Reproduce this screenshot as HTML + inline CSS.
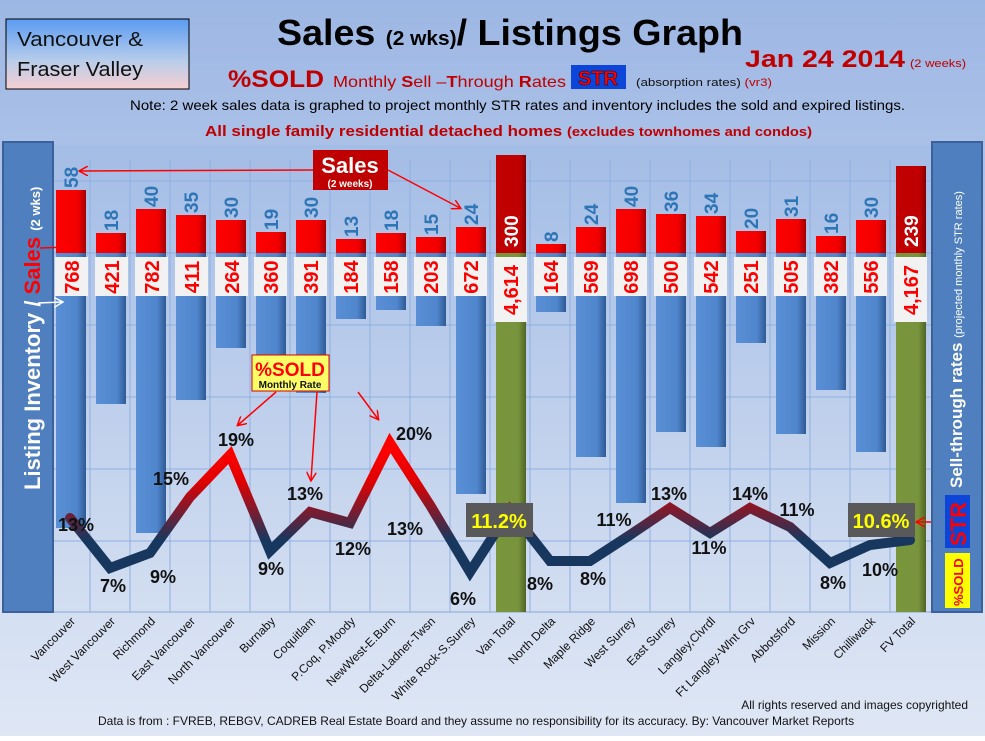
<!DOCTYPE html>
<html><head><meta charset="utf-8"><style>
body{margin:0;width:985px;height:736px;overflow:hidden;font-family:"Liberation Sans",sans-serif}
</style></head><body>
<svg width="985" height="736" xmlns="http://www.w3.org/2000/svg" font-family="Liberation Sans, sans-serif">
<defs>
<linearGradient id="bg" x1="0" y1="0" x2="0" y2="1"><stop offset="0" stop-color="#9db7e4"/><stop offset="1" stop-color="#dfe7f5"/></linearGradient>
<linearGradient id="pl" x1="0" y1="0" x2="0" y2="1"><stop offset="0" stop-color="#a4bde6"/><stop offset="1" stop-color="#d3def1"/></linearGradient>
<linearGradient id="bl" x1="0" y1="0" x2="1" y2="0"><stop offset="0" stop-color="#5a8fd6"/><stop offset="0.7" stop-color="#4f86cc"/><stop offset="1" stop-color="#2f5a95"/></linearGradient>
<linearGradient id="rd" x1="0" y1="0" x2="1" y2="0"><stop offset="0" stop-color="#ff0000"/><stop offset="0.75" stop-color="#f20000"/><stop offset="1" stop-color="#a00000"/></linearGradient>
<linearGradient id="dr" x1="0" y1="0" x2="1" y2="0"><stop offset="0" stop-color="#c00000"/><stop offset="0.8" stop-color="#c00000"/><stop offset="1" stop-color="#800000"/></linearGradient>
<linearGradient id="gr" x1="0" y1="0" x2="1" y2="0"><stop offset="0" stop-color="#7a963c"/><stop offset="0.75" stop-color="#77933c"/><stop offset="1" stop-color="#4f6424"/></linearGradient>
<linearGradient id="ln" gradientUnits="userSpaceOnUse" x1="0" y1="450" x2="0" y2="540"><stop offset="0" stop-color="#ff0000"/><stop offset="0.35" stop-color="#e00000"/><stop offset="1" stop-color="#17375e"/></linearGradient>
<linearGradient id="tb" x1="0" y1="0" x2="0" y2="1"><stop offset="0" stop-color="#5b9bf2"/><stop offset="0.6" stop-color="#b8cdea"/><stop offset="1" stop-color="#f7cfd2"/></linearGradient>
<marker id="ar" markerWidth="10" markerHeight="10" refX="8" refY="5" orient="auto" markerUnits="userSpaceOnUse"><path d="M0,0 L9,5 L0,10" fill="none" stroke="#f00" stroke-width="1.5"/></marker>
<marker id="aw" markerWidth="10" markerHeight="10" refX="8" refY="5" orient="auto" markerUnits="userSpaceOnUse"><path d="M0,0 L9,5 L0,10" fill="none" stroke="#fff" stroke-width="1.5"/></marker>
</defs>
<rect width="985" height="736" fill="url(#bg)"/>
<!-- header -->
<rect x="6" y="19" width="183" height="70" fill="url(#tb)" stroke="#000" stroke-width="1"/>
<text x="17" y="46" font-size="20" fill="#111" textLength="126" lengthAdjust="spacingAndGlyphs">Vancouver &amp;</text>
<text x="17" y="76" font-size="20" fill="#111" textLength="126" lengthAdjust="spacingAndGlyphs">Fraser Valley</text>
<text x="277" y="45" font-size="36" font-weight="bold" fill="#000" textLength="466" lengthAdjust="spacingAndGlyphs">Sales <tspan font-size="20">(2 wks)</tspan>/ Listings Graph</text>
<text x="745" y="67" font-size="24" font-weight="bold" fill="#c00000" textLength="160" lengthAdjust="spacingAndGlyphs">Jan 24 2014</text>
<text x="910" y="67" font-size="11" fill="#c00000" textLength="56" lengthAdjust="spacingAndGlyphs">(2 weeks)</text>
<text x="228" y="87" font-size="24" font-weight="bold" fill="#c00000" textLength="96" lengthAdjust="spacingAndGlyphs">%SOLD</text>
<text x="333" y="87" font-size="16" fill="#c00000" textLength="233" lengthAdjust="spacingAndGlyphs">Monthly <tspan font-weight="bold">S</tspan>ell –<tspan font-weight="bold">T</tspan>hrough <tspan font-weight="bold">R</tspan>ates</text>
<rect x="571" y="65" width="55" height="24" fill="#0c45d8"/>
<text x="598" y="85" font-size="20" font-weight="bold" text-anchor="middle" fill="#ff0000" stroke="#200" stroke-width="0.5">STR</text>
<text x="636" y="86" font-size="11" fill="#111" textLength="136" lengthAdjust="spacingAndGlyphs">(absorption rates) <tspan fill="#c00000">(vr3)</tspan></text>
<text x="130" y="110" font-size="14" fill="#000" textLength="775" lengthAdjust="spacingAndGlyphs">Note: 2 week sales data is graphed to project monthly STR rates and inventory includes the sold and expired listings.</text>
<text x="205" y="136" font-size="15" font-weight="bold" fill="#c00000" textLength="607" lengthAdjust="spacingAndGlyphs">All single family residential detached homes <tspan font-size="13">(excludes townhomes and condos)</tspan></text>
<!-- plot -->
<rect x="53" y="145" width="878" height="467" fill="url(#pl)"/>
<g stroke="#8fb0e0" stroke-width="1">
<line x1="53" y1="181" x2="931" y2="181"/><line x1="53" y1="253" x2="931" y2="253"/><line x1="53" y1="325" x2="931" y2="325"/><line x1="53" y1="397" x2="931" y2="397"/><line x1="53" y1="469" x2="931" y2="469"/><line x1="53" y1="541" x2="931" y2="541"/>
<line x1="90" y1="160" x2="90" y2="612"/><line x1="130" y1="160" x2="130" y2="612"/><line x1="170" y1="160" x2="170" y2="612"/><line x1="210" y1="160" x2="210" y2="612"/><line x1="250" y1="160" x2="250" y2="612"/><line x1="290" y1="160" x2="290" y2="612"/><line x1="330" y1="160" x2="330" y2="612"/><line x1="370" y1="160" x2="370" y2="612"/><line x1="410" y1="160" x2="410" y2="612"/><line x1="450" y1="160" x2="450" y2="612"/><line x1="490" y1="160" x2="490" y2="612"/><line x1="530" y1="160" x2="530" y2="612"/><line x1="570" y1="160" x2="570" y2="612"/><line x1="610" y1="160" x2="610" y2="612"/><line x1="650" y1="160" x2="650" y2="612"/><line x1="690" y1="160" x2="690" y2="612"/><line x1="730" y1="160" x2="730" y2="612"/><line x1="770" y1="160" x2="770" y2="612"/><line x1="810" y1="160" x2="810" y2="612"/><line x1="850" y1="160" x2="850" y2="612"/><line x1="890" y1="160" x2="890" y2="612"/>
</g>
<line x1="53" y1="612" x2="931" y2="612" stroke="#9fb8de" stroke-width="1.5"/>
<!-- blue bars -->
<g fill="url(#bl)">
<rect x="56" y="253" width="30" height="275"/><rect x="96" y="253" width="30" height="151"/><rect x="136" y="253" width="30" height="280"/><rect x="176" y="253" width="30" height="147"/><rect x="216" y="253" width="30" height="95"/><rect x="256" y="253" width="30" height="129"/><rect x="296" y="253" width="30" height="140"/><rect x="336" y="253" width="30" height="66"/><rect x="376" y="253" width="30" height="57"/><rect x="416" y="253" width="30" height="73"/><rect x="456" y="253" width="30" height="241"/>
<rect x="536" y="253" width="30" height="59"/><rect x="576" y="253" width="30" height="204"/><rect x="616" y="253" width="30" height="250"/><rect x="656" y="253" width="30" height="179"/><rect x="696" y="253" width="30" height="194"/><rect x="736" y="253" width="30" height="90"/><rect x="776" y="253" width="30" height="181"/><rect x="816" y="253" width="30" height="137"/><rect x="856" y="253" width="30" height="199"/>
</g>
<rect x="496" y="253" width="30" height="359" fill="url(#gr)"/>
<rect x="896" y="253" width="30" height="359" fill="url(#gr)"/>
<!-- red bars -->
<g fill="url(#rd)">
<rect x="56" y="190" width="30" height="63"/><rect x="96" y="233" width="30" height="20"/><rect x="136" y="209" width="30" height="44"/><rect x="176" y="215" width="30" height="38"/><rect x="216" y="220" width="30" height="33"/><rect x="256" y="232" width="30" height="21"/><rect x="296" y="220" width="30" height="33"/><rect x="336" y="239" width="30" height="14"/><rect x="376" y="233" width="30" height="20"/><rect x="416" y="237" width="30" height="16"/><rect x="456" y="227" width="30" height="26"/>
<rect x="536" y="244" width="30" height="9"/><rect x="576" y="227" width="30" height="26"/><rect x="616" y="209" width="30" height="44"/><rect x="656" y="214" width="30" height="39"/><rect x="696" y="216" width="30" height="37"/><rect x="736" y="231" width="30" height="22"/><rect x="776" y="219" width="30" height="34"/><rect x="816" y="236" width="30" height="17"/><rect x="856" y="220" width="30" height="33"/>
</g>
<rect x="496" y="155" width="30" height="98" fill="url(#dr)"/>
<rect x="896" y="166" width="30" height="87" fill="url(#dr)"/>
<!-- sales labels -->
<g font-size="19" font-weight="bold" fill="#2e75b6">
<text transform="translate(78,188) rotate(-90)">58</text><text transform="translate(118,231) rotate(-90)">18</text><text transform="translate(158,207) rotate(-90)">40</text><text transform="translate(198,213) rotate(-90)">35</text><text transform="translate(238,218) rotate(-90)">30</text><text transform="translate(278,230) rotate(-90)">19</text><text transform="translate(318,218) rotate(-90)">30</text><text transform="translate(358,237) rotate(-90)">13</text><text transform="translate(398,231) rotate(-90)">18</text><text transform="translate(438,235) rotate(-90)">15</text><text transform="translate(478,225) rotate(-90)">24</text>
<text transform="translate(558,242) rotate(-90)">8</text><text transform="translate(598,225) rotate(-90)">24</text><text transform="translate(638,207) rotate(-90)">40</text><text transform="translate(678,212) rotate(-90)">36</text><text transform="translate(718,214) rotate(-90)">34</text><text transform="translate(758,229) rotate(-90)">20</text><text transform="translate(798,217) rotate(-90)">31</text><text transform="translate(838,234) rotate(-90)">16</text><text transform="translate(878,218) rotate(-90)">30</text>
</g>
<g font-size="19" font-weight="bold" fill="#fff">
<text transform="translate(518,247) rotate(-90)">300</text><text transform="translate(918,247) rotate(-90)">239</text>
</g>
<!-- inventory label boxes -->
<g fill="#f2f2f2">
<rect x="55" y="257" width="33" height="39"/><rect x="95" y="257" width="33" height="39"/><rect x="135" y="257" width="33" height="39"/><rect x="175" y="257" width="33" height="39"/><rect x="215" y="257" width="33" height="39"/><rect x="254" y="257" width="33" height="39"/><rect x="294" y="257" width="33" height="39"/><rect x="334" y="257" width="33" height="39"/><rect x="374" y="257" width="33" height="39"/><rect x="414" y="257" width="33" height="39"/><rect x="454" y="257" width="33" height="39"/><rect x="494" y="257" width="33" height="65"/>
<rect x="534" y="257" width="33" height="39"/><rect x="574" y="257" width="33" height="39"/><rect x="614" y="257" width="33" height="39"/><rect x="654" y="257" width="33" height="39"/><rect x="694" y="257" width="33" height="39"/><rect x="734" y="257" width="33" height="39"/><rect x="774" y="257" width="33" height="39"/><rect x="814" y="257" width="33" height="39"/><rect x="854" y="257" width="33" height="39"/><rect x="894" y="257" width="33" height="65"/>
</g>
<g font-size="20" font-weight="bold" fill="#ff0000" text-anchor="middle">
<text transform="translate(79,277) rotate(-90)">768</text><text transform="translate(119,277) rotate(-90)">421</text><text transform="translate(159,277) rotate(-90)">782</text><text transform="translate(199,277) rotate(-90)">411</text><text transform="translate(239,277) rotate(-90)">264</text><text transform="translate(278,277) rotate(-90)">360</text><text transform="translate(318,277) rotate(-90)">391</text><text transform="translate(358,277) rotate(-90)">184</text><text transform="translate(398,277) rotate(-90)">158</text><text transform="translate(438,277) rotate(-90)">203</text><text transform="translate(478,277) rotate(-90)">672</text><text transform="translate(518,290) rotate(-90)">4,614</text>
<text transform="translate(558,277) rotate(-90)">164</text><text transform="translate(598,277) rotate(-90)">569</text><text transform="translate(638,277) rotate(-90)">698</text><text transform="translate(678,277) rotate(-90)">500</text><text transform="translate(718,277) rotate(-90)">542</text><text transform="translate(758,277) rotate(-90)">251</text><text transform="translate(798,277) rotate(-90)">505</text><text transform="translate(838,277) rotate(-90)">382</text><text transform="translate(878,277) rotate(-90)">556</text><text transform="translate(918,290) rotate(-90)">4,167</text>
</g>
<!-- line -->
<polyline points="70,518 110,568 150,553 190,497 230,455 270,551 310,512 350,523 390,443 430,505 470,572 510,510 550,561 590,561 630,535 670,508 710,533 750,508 790,527 830,563 870,545 910,540" fill="none" stroke="url(#ln)" stroke-width="10" stroke-linejoin="miter" stroke-linecap="round"/>
<g font-size="18" font-weight="bold" fill="#111" text-anchor="middle">
<text x="76" y="531">13%</text><text x="113" y="592">7%</text><text x="163" y="583">9%</text><text x="171" y="485">15%</text><text x="236" y="446">19%</text><text x="271" y="575">9%</text><text x="305" y="500">13%</text><text x="353" y="555">12%</text><text x="414" y="440">20%</text><text x="405" y="535">13%</text><text x="463" y="605">6%</text>
<text x="540" y="590">8%</text><text x="593" y="585">8%</text><text x="614" y="526">11%</text><text x="669" y="500">13%</text><text x="709" y="554">11%</text><text x="750" y="500">14%</text><text x="797" y="516">11%</text><text x="833" y="589">8%</text><text x="880" y="576">10%</text>
</g>
<rect x="466" y="503" width="67" height="34" fill="#595959"/>
<text x="499" y="528" font-size="20" font-weight="bold" fill="#ffff00" text-anchor="middle">11.2%</text>
<rect x="848" y="503" width="67" height="34" fill="#595959"/>
<text x="881" y="528" font-size="20" font-weight="bold" fill="#ffff00" text-anchor="middle">10.6%</text>
<line x1="948" y1="522" x2="917" y2="522" stroke="#f00" stroke-width="1.5" marker-end="url(#ar)"/>
<!-- annotations -->
<line x1="313" y1="170" x2="80" y2="171" stroke="#f00" stroke-width="1.5" marker-end="url(#ar)"/>
<line x1="388" y1="170" x2="460" y2="208" stroke="#f00" stroke-width="1.5" marker-end="url(#ar)"/>
<rect x="313" y="150" width="75" height="40" fill="#c00000"/>
<text x="350" y="173" font-size="22" font-weight="bold" fill="#fff" text-anchor="middle">Sales</text>
<text x="350" y="187" font-size="10" font-weight="bold" fill="#fff" text-anchor="middle">(2 weeks)</text>
<line x1="276" y1="392" x2="238" y2="425" stroke="#f00" stroke-width="1.5" marker-end="url(#ar)"/>
<line x1="317" y1="392" x2="311" y2="480" stroke="#f00" stroke-width="1.5" marker-end="url(#ar)"/>
<line x1="358" y1="392" x2="378" y2="419" stroke="#f00" stroke-width="1.5" marker-end="url(#ar)"/>
<rect x="252" y="355" width="77" height="36" fill="#ffff66" stroke="#d00" stroke-width="1"/>
<text x="290" y="376" font-size="19" font-weight="bold" fill="#f00" text-anchor="middle">%SOLD</text>
<text x="290" y="388" font-size="10" font-weight="bold" fill="#111" text-anchor="middle">Monthly Rate</text>
<!-- left panel -->
<rect x="3" y="142" width="50" height="470" fill="#4f7fbf" stroke="#3a619a" stroke-width="2"/>
<text transform="translate(40,490) rotate(-90)" font-size="22" font-weight="bold" fill="#fff">Listing Inventory / <tspan fill="#ff0000">Sales</tspan> <tspan font-size="13">(2  wks)</tspan></text>
<line x1="40" y1="248" x2="68" y2="247" stroke="#f00" stroke-width="1.5" marker-end="url(#ar)"/>
<line x1="38" y1="303" x2="62" y2="302" stroke="#fff" stroke-width="1.5" marker-end="url(#aw)"/>
<!-- right panel -->
<rect x="932" y="142" width="50" height="470" fill="#4f7fbf" stroke="#3a619a" stroke-width="2"/>
<text transform="translate(962,488) rotate(-90)" font-size="17" font-weight="bold" fill="#fff">Sell-through rates <tspan font-size="11" font-weight="normal">(projected monthly STR rates)</tspan></text>
<rect x="945" y="495" width="25" height="53" fill="#0c45d8"/>
<text transform="translate(966,546) rotate(-90)" font-size="22" font-weight="bold" fill="#ff0000">STR</text>
<rect x="945" y="553" width="25" height="55" fill="#ffff00"/>
<text transform="translate(963,606) rotate(-90)" font-size="13" font-weight="bold" fill="#ff0000">%SOLD</text>
<!-- x labels -->
<g font-size="12" fill="#111" text-anchor="end">
<text transform="translate(76,622) rotate(-45)">Vancouver</text><text transform="translate(116,622) rotate(-45)">West Vancouver</text><text transform="translate(156,622) rotate(-45)">Richmond</text><text transform="translate(196,622) rotate(-45)">East Vancouver</text><text transform="translate(236,622) rotate(-45)">North Vancouver</text><text transform="translate(276,622) rotate(-45)">Burnaby</text><text transform="translate(316,622) rotate(-45)">Coquitlam</text><text transform="translate(356,622) rotate(-45)">P.Coq, P.Moody</text><text transform="translate(396,622) rotate(-45)">NewWest-E.Burn</text><text transform="translate(436,622) rotate(-45)">Delta-Ladner-Twsn</text><text transform="translate(476,622) rotate(-45)">White Rock-S.Surrey</text><text transform="translate(516,622) rotate(-45)">Van Total</text>
<text transform="translate(556,622) rotate(-45)">North Delta</text><text transform="translate(596,622) rotate(-45)">Maple Ridge</text><text transform="translate(636,622) rotate(-45)">West Surrey</text><text transform="translate(676,622) rotate(-45)">East Surrey</text><text transform="translate(716,622) rotate(-45)">Langley,Clvrdl</text><text transform="translate(756,622) rotate(-45)">Ft Langley-Wlnt Grv</text><text transform="translate(796,622) rotate(-45)">Abbotsford</text><text transform="translate(836,622) rotate(-45)">Mission</text><text transform="translate(876,622) rotate(-45)">Chilliwack</text><text transform="translate(916,622) rotate(-45)">FV Total</text>
</g>
<text x="968" y="709" font-size="12" fill="#111" text-anchor="end">All rights reserved and  images copyrighted</text>
<text x="98" y="725" font-size="12" fill="#111">Data is from : FVREB, REBGV, CADREB Real Estate Board and they assume no responsibility for its accuracy. By: Vancouver Market Reports</text>
</svg>
</body></html>
